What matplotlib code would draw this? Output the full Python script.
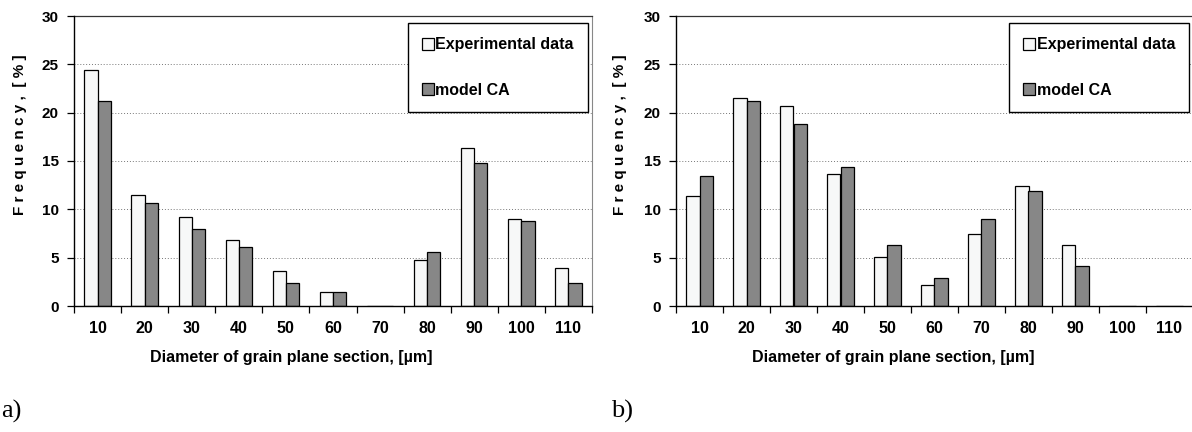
import matplotlib.pyplot as plt
import numpy as np

# Data
sizes = ["10", "20", "30", "40", "50", "60", "70", "80", "90", "100", "110"]
exp_a = [24.4, 11.5, 9.2, 6.8, 3.6, 1.4, 0.0, 4.8, 16.3, 9.0, 3.9]
ca_a = [21.2, 10.7, 8.0, 6.1, 2.4, 1.4, 0.0, 5.6, 14.8, 8.8, 2.4]
exp_b = [11.4, 21.5, 20.7, 13.7, 5.1, 2.2, 7.5, 12.4, 6.3, 0.0, 0.0]
ca_b = [13.4, 21.2, 18.8, 14.4, 6.3, 2.9, 9.0, 11.9, 4.1, 0.0, 0.0]

plt.rcParams['font.family'] = ['Liberation Sans', 'DejaVu Sans']

fig = plt.figure(figsize=(11.92, 4.32), dpi=100)
W, H = 1192, 432


def make_axes(x0, x1, top=16, bottom=306):
    return fig.add_axes([x0 / W, 1 - bottom / H, (x1 - x0) / W, (bottom - top) / H])


def draw_panel(ax, exp, ca, ylab_x):
    x = np.arange(len(sizes))
    w = 0.28
    ax.bar(x - w / 2, exp, w, color='#f7f8f8', edgecolor='black', linewidth=0.9,
           label='Experimental data', zorder=3)
    ax.bar(x + w / 2, ca, w, color='#878787', edgecolor='black', linewidth=0.9,
           label='model CA', zorder=3)
    ax.set_xlim(-0.5, len(sizes) - 0.5)
    ax.set_ylim(0, 30)
    ax.set_yticks(range(0, 31, 5))
    ax.set_yticklabels([str(v) for v in range(0, 31, 5)], fontsize=11, fontweight='bold')
    # boundaries get tick marks, centres get the labels
    ax.set_xticks(np.arange(-0.5, len(sizes), 1.0))
    ax.set_xticklabels([])
    ax.set_xticks(x, minor=True)
    ax.set_xticklabels(sizes, minor=True, fontsize=11.5, fontweight='bold')
    ax.tick_params(axis='x', which='major', direction='out', length=5, width=0.9)
    ax.tick_params(axis='x', which='minor', length=0, pad=11)
    ax.tick_params(axis='y', direction='out', length=5, width=0.9, pad=6)
    ax.grid(axis='y', linestyle=(0, (1, 2)), color='#777777', linewidth=0.7, zorder=0)
    for s in ['left', 'bottom']:
        ax.spines[s].set_color('black')
        ax.spines[s].set_linewidth(1.0)
        ax.spines[s].set_zorder(4)
    ax.spines['top'].set_color('#333333')
    ax.spines['top'].set_linewidth(0.9)
    ax.spines['right'].set_color('#888888')
    ax.spines['right'].set_linewidth(0.8)
    ax.set_ylabel('F r e q u e n c y ,  [ % ]', fontsize=11, fontweight='bold')
    ax.yaxis.set_label_coords(ylab_x, 0.59)
    ax.set_xlabel('Diameter of grain plane section, [\u00b5m]', fontsize=11.5,
                  fontweight='bold')
    ax.xaxis.set_label_coords(0.42, -0.152)
    leg = ax.legend(loc='upper right', bbox_to_anchor=(0.993, 0.976),
                    prop={'size': 11.5, 'weight': 'bold'}, frameon=True,
                    fancybox=False, edgecolor='black', framealpha=1,
                    handlelength=0.75, handleheight=0.75, handletextpad=0.1,
                    labelspacing=1.9, borderpad=0.9, borderaxespad=0)
    leg.get_frame().set_linewidth(1.0)
    leg.set_zorder(5)


ax_a = make_axes(74, 592)
draw_panel(ax_a, exp_a, ca_a, -0.09)
ax_b = make_axes(676, 1193)
draw_panel(ax_b, exp_b, ca_b, -0.094)

fig.text(1 / W, 1 - 411 / H, 'a)', fontsize=19, family='Liberation Serif', va='center')
fig.text(611 / W, 1 - 411 / H, 'b)', fontsize=19, family='Liberation Serif', va='center')

fig.savefig('out.png', dpi=100)
